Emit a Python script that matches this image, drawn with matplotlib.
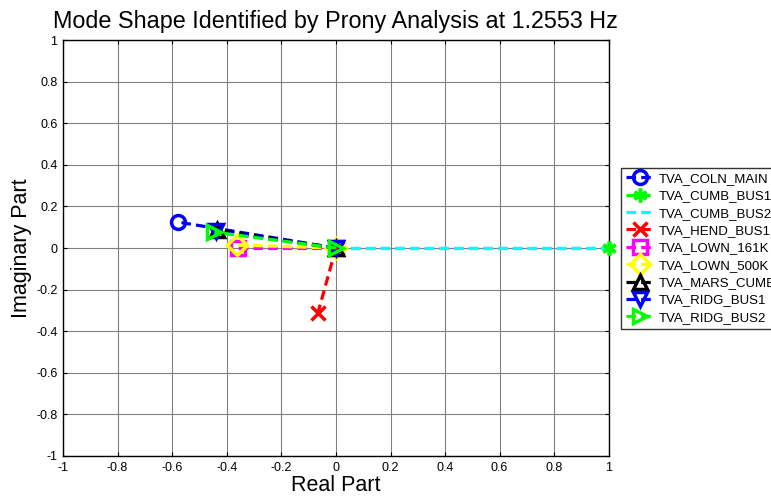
import numpy as np
import matplotlib.pyplot as plt

plt.rcParams['font.family'] = ['Liberation Sans', 'DejaVu Sans']

# mode shape phasors (real, imaginary) for each bus
names = ['TVA_COLN_MAIN', 'TVA_CUMB_BUS1', 'TVA_CUMB_BUS2', 'TVA_HEND_BUS1',
         'TVA_LOWN_161K', 'TVA_LOWN_500K', 'TVA_MARS_CUMB', 'TVA_RIDG_BUS1',
         'TVA_RIDG_BUS2']
re_part = [-0.580, 1.000, 1.000, -0.066, -0.359, -0.363, -0.436, -0.440, -0.445]
im_part = [0.125, 0.000, 0.000, -0.312, 0.000, 0.014, 0.087, 0.080, 0.076]

colors = ['#0000ff', '#00ff00', '#00ffff', '#ff0000', '#ff00ff', '#ffff00',
          '#000000', '#0000ff', '#00ff00']
markers = ['o', (6, 2, 0), None, 'x', 's', 'D', '^', 'v', '>']
ticklbl = ['-1', '-0.8', '-0.6', '-0.4', '-0.2', '0', '0.2', '0.4', '0.6', '0.8', '1']

fig = plt.figure(figsize=(7.71, 4.97), dpi=100)
ax = fig.add_axes([0.0817, 0.0825, 0.708, 0.837])

for i in range(len(names)):
    mk = markers[i]
    filled = mk in ('x', (6, 2, 0))
    ax.plot([0, re_part[i]], [0, im_part[i]], linestyle='--', color=colors[i],
            linewidth=2.3, dashes=(3, 1.6), marker=mk, markersize=10,
            markerfacecolor=colors[i] if filled else 'none',
            markeredgecolor=colors[i], markeredgewidth=2.5, label=names[i],
            clip_on=False)

# CUMB_BUS1 tip marker redrawn above the cyan CUMB_BUS2 line
ax.plot(re_part[1], im_part[1], linestyle='none', marker=markers[1],
        markersize=10, color=colors[1], markeredgewidth=2.5, clip_on=False,
        zorder=3)

ax.set_xlim(-1, 1)
ax.set_ylim(-1, 1)
ax.set_xticks(np.linspace(-1, 1, 11))
ax.set_yticks(np.linspace(-1, 1, 11))
ax.set_xticklabels(ticklbl)
ax.set_yticklabels(ticklbl)
ax.tick_params(direction='in', length=3, labelsize=9, top=True, right=True, pad=4)
ax.grid(True, color='#808080', linewidth=0.8)
for s in ax.spines.values():
    s.set_linewidth(1.0)

ax.set_xlabel('Real Part', fontsize=15.5, labelpad=1)
ax.set_ylabel('Imaginary Part', fontsize=15.5, labelpad=3)
ax.set_title('Mode Shape Identified by Prony Analysis at 1.2553 Hz', fontsize=16.8, pad=9)

# legend sits partly past the right edge of the figure
leg = fig.legend(loc='upper left', bbox_to_anchor=(621 / 771, 1 - 168 / 497),
                 borderaxespad=0, fontsize=9.5, frameon=True, fancybox=False,
                 edgecolor='black', handlelength=2.2, labelspacing=0.39,
                 borderpad=0.35, handletextpad=0.3, markerscale=1.0)
leg.get_frame().set_linewidth(1.0)

fig.savefig('out.png', dpi=100)
